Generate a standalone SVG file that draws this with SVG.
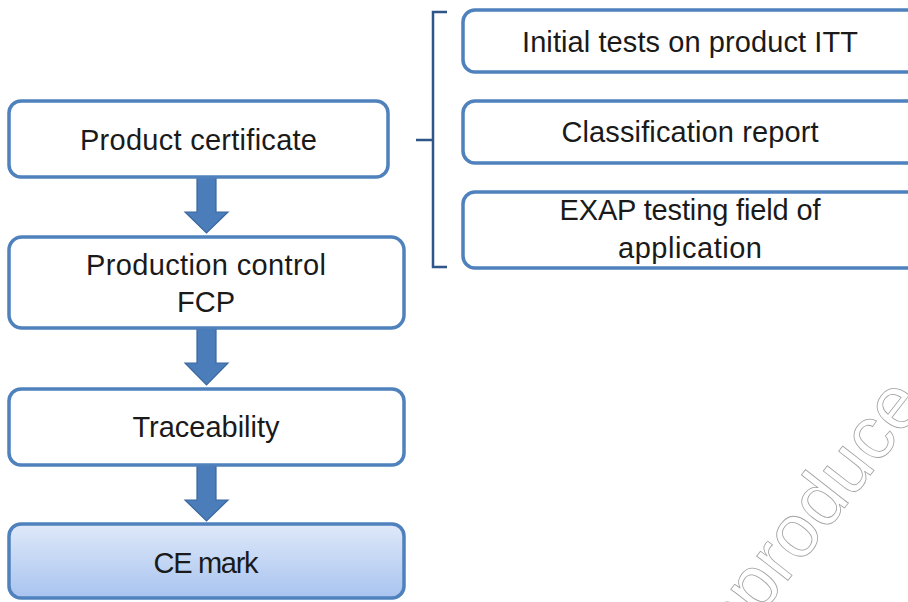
<svg xmlns="http://www.w3.org/2000/svg" width="908" height="602" viewBox="0 0 908 602">
<style>
.box{fill:#ffffff;stroke:#4f81bd;stroke-width:3.5}
.t{font-family:"Liberation Sans",Arial,sans-serif;font-size:29px;fill:#1a1a1a;text-anchor:middle}
.arr{fill:#4a7dba;stroke:#3a679e;stroke-width:1.2}
.br{fill:none;stroke:#2f5589;stroke-width:2.5}
.wm{font-family:"Liberation Sans",Arial,sans-serif;font-size:75px;fill:none;stroke:#a0a0a0;stroke-width:0.8}
</style>
<defs>
<linearGradient id="ce" x1="0" y1="0" x2="0" y2="1">
<stop offset="0" stop-color="#dfe9f9"/>
<stop offset="1" stop-color="#a8c4ef"/>
</linearGradient>
</defs>
<rect width="908" height="602" fill="#ffffff"/>
<text class="wm" transform="translate(718,670) rotate(-52)">reproduce c</text>
<g id="connectors">
<path class="arr" d="M197,177 H216 V212 H228 L206.5,233 L185,212 H197 Z"/>
<path class="arr" d="M197,329 H216 V363 H228 L206.5,385 L185,363 H197 Z"/>
<path class="arr" d="M197,466 H216 V500 H228 L206.5,521 L185,500 H197 Z"/>
<path class="br" d="M447,12 H433 V267 H447 M433,140 H416"/>
</g>
<g id="n1">
<rect class="box" x="9" y="101" width="379" height="76" rx="12"/>
<text class="t" x="198.5" y="150" textLength="237">Product certificate</text>
</g>
<g id="n2">
<rect class="box" x="9" y="237" width="395" height="91" rx="13"/>
<text class="t" x="206" y="275" textLength="240">Production control</text>
<text class="t" x="206" y="312">FCP</text>
</g>
<g id="n3">
<rect class="box" x="9" y="389" width="395" height="76" rx="12"/>
<text class="t" x="206" y="437" textLength="147">Traceability</text>
</g>
<g id="n4">
<rect x="9" y="524" width="395" height="74" rx="12" fill="url(#ce)" stroke="#4f81bd" stroke-width="3.5"/>
<text class="t" x="206" y="573" textLength="105">CE mark</text>
</g>
<g id="n5">
<rect class="box" x="463" y="10" width="460" height="62" rx="12"/>
<text class="t" x="690" y="52" textLength="336">Initial tests on product ITT</text>
</g>
<g id="n6">
<rect class="box" x="463" y="101" width="460" height="62" rx="12"/>
<text class="t" x="690" y="142" textLength="257">Classification report</text>
</g>
<g id="n7">
<rect class="box" x="463" y="192" width="460" height="76" rx="12"/>
<text class="t" x="690" y="220" textLength="261">EXAP testing field of</text>
<text class="t" x="690" y="258" textLength="144">application</text>
</g>
</svg>
